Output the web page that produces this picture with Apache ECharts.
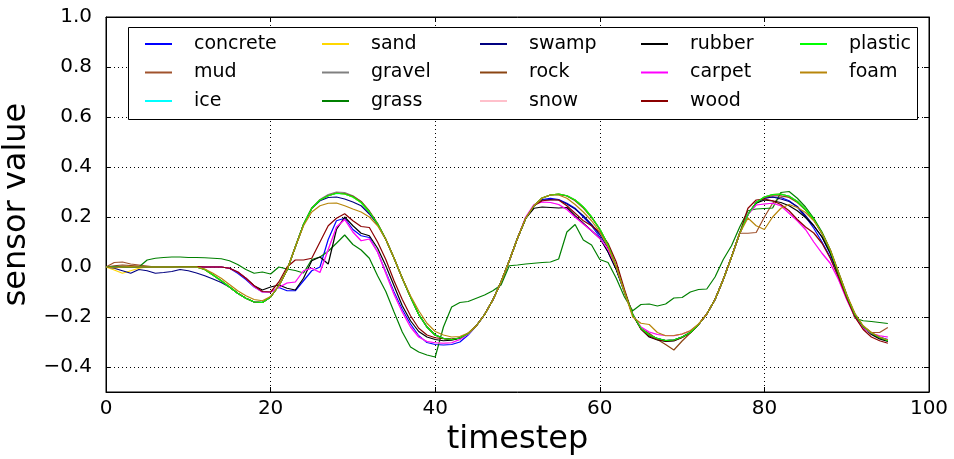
<!DOCTYPE html>
<html><head><meta charset="utf-8">
<script src="https://cdn.jsdelivr.net/npm/echarts@6/dist/echarts.min.js"></script>
<style>html,body{margin:0;padding:0;background:#fff}#c{width:954px;height:459px}</style>
</head><body><div id="c"></div>
<script>
const timesteps = [0,1,2,3,4,5,6,7,8,9,10,11,12,13,14,15,16,17,18,19,20,21,22,23,24,25,26,27,28,29,30,31,32,33,34,35,36,37,38,39,40,41,42,43,44,45,46,47,48,49,50,51,52,53,54,55,56,57,58,59,60,61,62,63,64,65,66,67,68,69,70,71,72,73,74,75,76,77,78,79,80,81,82,83,84,85,86,87,88,89,90,91,92,93,94,95];

const concrete = [0,0.002,0,0,0,0,0,0,0,0,
 0,0,0,0,0,-0.005,-0.025,-0.05,-0.08,-0.1,
 -0.1,-0.082,-0.095,-0.095,-0.055,-0.015,0.0,0.11,0.185,0.195,
 0.15,0.125,0.118,0.06,-0.02,-0.1,-0.17,-0.228,-0.275,-0.302,
 -0.31,-0.312,-0.31,-0.3,-0.272,-0.235,-0.19,-0.132,-0.06,0.025,
 0.115,0.195,0.245,0.27,0.275,0.27,0.255,0.235,0.2,0.165,
 0.12,0.06,-0.01,-0.1,-0.19,-0.245,-0.275,-0.288,-0.295,-0.293,
 -0.28,-0.262,-0.23,-0.188,-0.13,-0.05,0.04,0.135,0.21,0.258,
 0.275,0.28,0.278,0.265,0.24,0.2,0.155,0.1,0.04,-0.04,
 -0.125,-0.195,-0.24,-0.265,-0.28,-0.29];
const mud = [0,0.018,0.02,0.012,0.008,0.004,0,0,0,0,
 0,0,-0.01,-0.032,-0.055,-0.08,-0.105,-0.125,-0.14,-0.142,
 -0.12,-0.075,-0.012,0.08,0.17,0.235,0.268,0.285,0.295,0.292,
 0.28,0.258,0.22,0.172,0.11,0.035,-0.045,-0.12,-0.19,-0.24,
 -0.272,-0.286,-0.29,-0.284,-0.266,-0.235,-0.19,-0.132,-0.06,0.025,
 0.115,0.195,0.245,0.276,0.288,0.292,0.285,0.268,0.24,0.2,
 0.152,0.088,0.0,-0.1,-0.19,-0.245,-0.272,-0.286,-0.294,-0.292,
 -0.28,-0.262,-0.23,-0.188,-0.13,-0.05,0.04,0.135,0.135,0.138,
 0.2,0.255,0.28,0.283,0.262,0.23,0.19,0.135,0.065,-0.025,
 -0.115,-0.19,-0.238,-0.262,-0.262,-0.242];
const ice = [0,0,0,0,0,0,0,0,0,0,
 0,0,-0.01,-0.032,-0.055,-0.08,-0.105,-0.125,-0.14,-0.14,
 -0.12,-0.075,-0.012,0.08,0.17,0.235,0.268,0.285,0.294,0.292,
 0.28,0.258,0.22,0.172,0.11,0.035,-0.045,-0.12,-0.19,-0.24,
 -0.272,-0.286,-0.29,-0.284,-0.266,-0.235,-0.19,-0.132,-0.06,0.025,
 0.115,0.195,0.245,0.276,0.288,0.29,0.285,0.268,0.24,0.2,
 0.152,0.088,0.0,-0.1,-0.19,-0.245,-0.272,-0.286,-0.294,-0.292,
 -0.28,-0.262,-0.23,-0.188,-0.13,-0.05,0.04,0.135,0.21,0.258,
 0.28,0.29,0.29,0.283,0.262,0.23,0.19,0.135,0.065,-0.025,
 -0.115,-0.19,-0.238,-0.264,-0.282,-0.294];
const sand = [0,-0.012,-0.025,-0.015,-0.005,0,0,0,0,0,
 0,0,-0.01,-0.032,-0.055,-0.08,-0.105,-0.125,-0.14,-0.142,
 -0.12,-0.075,-0.012,0.08,0.17,0.235,0.268,0.285,0.295,0.292,
 0.28,0.258,0.22,0.172,0.11,0.035,-0.045,-0.12,-0.19,-0.24,
 -0.272,-0.286,-0.29,-0.284,-0.266,-0.235,-0.19,-0.132,-0.06,0.025,
 0.115,0.195,0.245,0.276,0.288,0.292,0.285,0.268,0.24,0.2,
 0.152,0.088,0.0,-0.1,-0.19,-0.245,-0.272,-0.286,-0.294,-0.292,
 -0.28,-0.262,-0.23,-0.188,-0.13,-0.05,0.04,0.135,0.21,0.258,
 0.28,0.29,0.292,0.283,0.262,0.23,0.19,0.135,0.065,-0.025,
 -0.115,-0.19,-0.238,-0.264,-0.282,-0.295];
const gravel = [0,0,0,0,0,0,0,0,0,0,
 0,0,-0.01,-0.032,-0.055,-0.08,-0.105,-0.125,-0.14,-0.142,
 -0.12,-0.075,-0.012,0.08,0.17,0.235,0.27,0.29,0.3,0.298,
 0.285,0.262,0.222,0.172,0.11,0.035,-0.045,-0.12,-0.19,-0.24,
 -0.272,-0.286,-0.29,-0.284,-0.266,-0.235,-0.19,-0.132,-0.06,0.025,
 0.115,0.195,0.245,0.276,0.288,0.292,0.285,0.268,0.24,0.2,
 0.152,0.088,0.0,-0.1,-0.19,-0.245,-0.272,-0.286,-0.294,-0.292,
 -0.28,-0.262,-0.23,-0.188,-0.13,-0.05,0.04,0.135,0.21,0.258,
 0.28,0.29,0.292,0.283,0.262,0.23,0.19,0.135,0.065,-0.025,
 -0.115,-0.19,-0.238,-0.264,-0.282,-0.295];
const grass = [0,0,0,0,0,0.028,0.035,0.038,0.04,0.04,
 0.038,0.038,0.037,0.035,0.033,0.025,0.01,-0.01,-0.025,-0.02,
 -0.028,0.0,-0.008,-0.014,-0.024,0.03,0.04,0.063,0.095,0.128,
 0.09,0.068,0.035,-0.035,-0.098,-0.18,-0.26,-0.32,-0.34,-0.352,
 -0.36,-0.24,-0.16,-0.142,-0.138,-0.125,-0.112,-0.095,-0.072,0.005,
 0.008,0.012,0.015,0.018,0.02,0.032,0.14,0.17,0.108,0.088,
 0.03,0.018,-0.045,-0.12,-0.175,-0.15,-0.148,-0.156,-0.148,-0.124,
 -0.122,-0.1,-0.09,-0.088,-0.04,0.03,0.085,0.16,0.225,0.232,
 0.234,0.236,0.298,0.302,0.275,0.24,0.195,0.14,0.07,-0.02,
 -0.11,-0.205,-0.215,-0.218,-0.222,-0.226];
const swamp = [0,-0.005,-0.015,-0.025,-0.01,-0.015,-0.025,-0.022,-0.018,-0.01,
 -0.015,-0.024,-0.035,-0.048,-0.062,-0.08,-0.105,-0.125,-0.14,-0.142,
 -0.12,-0.075,-0.012,0.08,0.17,0.235,0.265,0.278,0.28,0.272,
 0.26,0.245,0.212,0.17,0.11,0.035,-0.045,-0.12,-0.19,-0.24,
 -0.272,-0.286,-0.29,-0.284,-0.266,-0.235,-0.19,-0.132,-0.06,0.025,
 0.115,0.195,0.245,0.268,0.27,0.268,0.252,0.232,0.205,0.17,
 0.13,0.075,-0.005,-0.1,-0.19,-0.245,-0.272,-0.286,-0.294,-0.292,
 -0.28,-0.262,-0.23,-0.188,-0.13,-0.05,0.04,0.135,0.21,0.258,
 0.275,0.28,0.272,0.262,0.242,0.205,0.165,0.12,0.055,-0.03,
 -0.115,-0.19,-0.238,-0.266,-0.284,-0.296];
const rock = [0,0.005,0.008,0.006,0.004,0,0,0,0,0,
 0,0,-0.01,-0.032,-0.055,-0.08,-0.105,-0.125,-0.14,-0.142,
 -0.12,-0.075,-0.012,0.08,0.17,0.235,0.268,0.286,0.296,0.294,
 0.283,0.262,0.224,0.175,0.112,0.036,-0.045,-0.12,-0.19,-0.24,
 -0.272,-0.286,-0.29,-0.284,-0.266,-0.235,-0.19,-0.132,-0.06,0.025,
 0.115,0.195,0.245,0.276,0.288,0.29,0.284,0.265,0.236,0.198,
 0.15,0.088,0.0,-0.1,-0.19,-0.245,-0.265,-0.29,-0.31,-0.332,
 -0.296,-0.264,-0.23,-0.188,-0.13,-0.05,0.04,0.135,0.21,0.258,
 0.278,0.285,0.285,0.278,0.258,0.228,0.188,0.133,0.063,-0.025,
 -0.115,-0.19,-0.238,-0.264,-0.282,-0.292];
const snow = [0,0,0,0,0,0,0,0,0,0,
 0,0,0,0,0,-0.005,-0.02,-0.045,-0.078,-0.1,
 -0.1,-0.08,-0.064,-0.06,-0.015,-0.005,-0.02,0.07,0.155,0.19,
 0.14,0.105,0.112,0.06,-0.025,-0.11,-0.18,-0.24,-0.28,-0.298,
 -0.303,-0.305,-0.303,-0.29,-0.268,-0.235,-0.19,-0.132,-0.06,0.025,
 0.115,0.2,0.25,0.26,0.258,0.25,0.23,0.2,0.172,0.145,
 0.115,0.07,0.0,-0.1,-0.19,-0.24,-0.26,-0.27,-0.274,-0.275,
 -0.268,-0.255,-0.23,-0.188,-0.13,-0.05,0.04,0.135,0.21,0.248,
 0.252,0.255,0.245,0.215,0.185,0.15,0.1,0.055,0.015,-0.05,
 -0.13,-0.2,-0.245,-0.265,-0.275,-0.28];
const rubber = [0,0,0,0,0,0,0,0,0,0,
 0,0,0,0,0,-0.005,-0.02,-0.045,-0.075,-0.092,
 -0.08,-0.072,-0.085,-0.092,-0.045,0.025,0.04,0.012,0.15,0.2,
 0.165,0.135,0.125,0.075,0.005,-0.075,-0.155,-0.215,-0.258,-0.28,
 -0.29,-0.295,-0.293,-0.285,-0.266,-0.235,-0.19,-0.132,-0.06,0.025,
 0.115,0.195,0.235,0.24,0.238,0.236,0.238,0.205,0.175,0.145,
 0.115,0.06,-0.01,-0.1,-0.19,-0.248,-0.28,-0.292,-0.298,-0.296,
 -0.282,-0.262,-0.23,-0.188,-0.13,-0.05,0.04,0.135,0.21,0.255,
 0.268,0.264,0.258,0.245,0.225,0.198,0.165,0.12,0.055,-0.03,
 -0.12,-0.195,-0.242,-0.27,-0.288,-0.298];
const carpet = [0,0,0,0,0,0,0,0,0,0,
 0,0,0,0,0,-0.005,-0.02,-0.045,-0.078,-0.1,
 -0.1,-0.082,-0.064,-0.06,-0.015,-0.005,-0.022,0.07,0.16,0.19,
 0.14,0.105,0.112,0.06,-0.025,-0.11,-0.18,-0.24,-0.28,-0.298,
 -0.303,-0.305,-0.303,-0.29,-0.268,-0.235,-0.19,-0.132,-0.06,0.025,
 0.115,0.2,0.25,0.26,0.258,0.25,0.23,0.2,0.172,0.145,
 0.115,0.07,0.0,-0.1,-0.19,-0.24,-0.26,-0.27,-0.274,-0.275,
 -0.268,-0.255,-0.23,-0.188,-0.13,-0.05,0.04,0.135,0.21,0.248,
 0.252,0.255,0.245,0.215,0.185,0.15,0.1,0.055,0.015,-0.05,
 -0.13,-0.2,-0.245,-0.265,-0.275,-0.28];
const wood = [0,0,0,0,0,0,0,0,0,0.002,
 0.002,0.002,0,0,0,-0.005,-0.02,-0.045,-0.075,-0.098,
 -0.1,-0.06,0.0,0.028,0.028,0.035,0.1,0.165,0.195,0.213,
 0.185,0.162,0.158,0.1,0.03,-0.055,-0.13,-0.195,-0.245,-0.272,
 -0.283,-0.287,-0.288,-0.284,-0.266,-0.235,-0.19,-0.132,-0.06,0.025,
 0.115,0.195,0.245,0.265,0.268,0.268,0.245,0.215,0.185,0.165,
 0.14,0.095,0.02,-0.09,-0.19,-0.248,-0.276,-0.29,-0.296,-0.294,
 -0.282,-0.262,-0.23,-0.188,-0.13,-0.05,0.04,0.135,0.235,0.268,
 0.272,0.265,0.25,0.225,0.19,0.16,0.136,0.095,0.035,-0.04,
 -0.125,-0.2,-0.25,-0.28,-0.295,-0.305];
const plastic = [0,0,0,0,0,0,0,0,0,0,
 0,0,-0.01,-0.032,-0.055,-0.08,-0.105,-0.125,-0.14,-0.142,
 -0.12,-0.075,-0.012,0.08,0.17,0.235,0.268,0.285,0.295,0.292,
 0.28,0.258,0.22,0.172,0.11,0.035,-0.045,-0.12,-0.19,-0.24,
 -0.272,-0.286,-0.29,-0.284,-0.266,-0.235,-0.19,-0.132,-0.06,0.025,
 0.115,0.195,0.245,0.276,0.288,0.292,0.285,0.268,0.24,0.2,
 0.152,0.088,0.0,-0.1,-0.19,-0.245,-0.272,-0.286,-0.294,-0.292,
 -0.28,-0.262,-0.23,-0.188,-0.13,-0.05,0.04,0.135,0.21,0.258,
 0.28,0.29,0.292,0.283,0.262,0.23,0.19,0.135,0.065,-0.025,
 -0.115,-0.19,-0.238,-0.264,-0.282,-0.295];
const foam = [0,-0.004,0,0.002,0,0,0,0,0,0,
 0,0,-0.008,-0.025,-0.045,-0.07,-0.095,-0.115,-0.13,-0.135,
 -0.118,-0.075,-0.012,0.08,0.165,0.22,0.245,0.255,0.256,0.245,
 0.232,0.22,0.2,0.165,0.11,0.035,-0.045,-0.115,-0.175,-0.225,
 -0.258,-0.272,-0.28,-0.278,-0.264,-0.235,-0.19,-0.132,-0.06,0.025,
 0.115,0.195,0.245,0.276,0.288,0.288,0.275,0.25,0.22,0.185,
 0.14,0.08,0.0,-0.1,-0.2,-0.225,-0.23,-0.262,-0.275,-0.274,
 -0.268,-0.255,-0.228,-0.188,-0.13,-0.05,0.04,0.135,0.196,0.165,
 0.15,0.2,0.235,0.25,0.238,0.218,0.185,0.135,0.07,-0.02,
 -0.11,-0.185,-0.235,-0.262,-0.28,-0.292];

const seriesNames = ['concrete','mud','ice','sand','gravel','grass','swamp','rock','snow','rubber','carpet','wood','plastic','foam'];
const seriesValues = [concrete,mud,ice,sand,gravel,grass,swamp,rock,snow,rubber,carpet,wood,plastic,foam];
const seriesColors = ['#0000ff','#a0522d','#00ffff','#ffd700','#808080','#008000','#000080','#8b4513','#ffc0cb','#000000','#ff00ff','#8b0000','#00ff00','#b8860b'];
const legendCols = [['concrete','mud','ice'],['sand','gravel','grass'],['swamp','rock','snow'],['rubber','carpet','wood'],['plastic','foam']];
const legendX = [145,322,480,641,800];
const xTicks = {min:0, max:100, interval:20};
const yRange = {min:-0.5, max:1.0};

const FONT = 'DejaVu Sans';
const fmtY = v => (v < 0 ? '\u2212' : '') + Math.abs(v).toFixed(1);
const dotted = {show:true, lineStyle:{color:'#000', type:[1,3], width:1}};

const chart = echarts.init(document.getElementById('c'), null, {renderer:'canvas'});
chart.setOption({
  animation:false,
  backgroundColor:'#fff',
  color: seriesColors,
  grid:{left:106, right:25, top:17, bottom:67, outerBoundsMode:'none', containLabel:false,
        show:true, borderColor:'#000', borderWidth:1, backgroundColor:'transparent'},
  graphic:[{type:'rect', left:128, top:27, shape:{width:789, height:92}, style:{fill:'#fff', stroke:'#000', lineWidth:1}, z:10}],
  legend: legendCols.map((d,i)=>({
    data:d, orient:'vertical', left:legendX[i], top:33, padding:0, itemGap:6.5,
    itemWidth:27, itemHeight:2, icon:'rect', selectedMode:false, z:20,
    textStyle:{fontFamily:FONT, fontSize:19, lineHeight:22, color:'#000', padding:[0,0,0,17]}
  })),
  xAxis:[
    {type:'value', min:xTicks.min, max:xTicks.max, interval:xTicks.interval,
     name:'timestep', nameLocation:'middle', nameGap:31,
     nameTextStyle:{fontFamily:FONT, fontSize:32, color:'#000'},
     axisLine:{show:true, onZero:false, lineStyle:{color:'#000', width:1}},
     axisTick:{show:true, inside:true, length:5, lineStyle:{color:'#000'}},
     axisLabel:{fontFamily:FONT, fontSize:20, color:'#000', margin:7},
     splitLine:dotted},
    {type:'value', position:'top', min:xTicks.min, max:xTicks.max, interval:xTicks.interval,
     axisLine:{show:true, onZero:false, lineStyle:{color:'#000'}},
     axisTick:{show:true, inside:true, length:5, lineStyle:{color:'#000'}},
     axisLabel:{show:false}, splitLine:{show:false}}
  ],
  yAxis:[
    {type:'value', min:yRange.min, max:yRange.max, splitNumber:7,
     name:'sensor value', nameLocation:'middle', nameGap:58,
     nameTextStyle:{fontFamily:FONT, fontSize:32, color:'#000'},
     axisLine:{show:true, onZero:false, lineStyle:{color:'#000', width:1}},
     axisTick:{show:true, inside:true, length:5, lineStyle:{color:'#000'}},
     axisLabel:{fontFamily:FONT, fontSize:20, color:'#000', margin:14, formatter:fmtY, showMinLabel:false},
     splitLine:dotted},
    {type:'value', position:'right', min:yRange.min, max:yRange.max, splitNumber:7,
     axisLine:{show:true, onZero:false, lineStyle:{color:'#000'}},
     axisTick:{show:true, inside:true, length:5, lineStyle:{color:'#000'}},
     axisLabel:{show:false}, splitLine:{show:false}}
  ],
  series: seriesNames.map((n,i)=>({
    name:n, type:'line', xAxisIndex:0, yAxisIndex:0, showSymbol:false, symbol:'none',
    lineStyle:{width:1.2, color:seriesColors[i]}, itemStyle:{color:seriesColors[i]},
    data: timesteps.map((t,k)=>[t, seriesValues[i][k]])
  }))
});
</script></body></html>
